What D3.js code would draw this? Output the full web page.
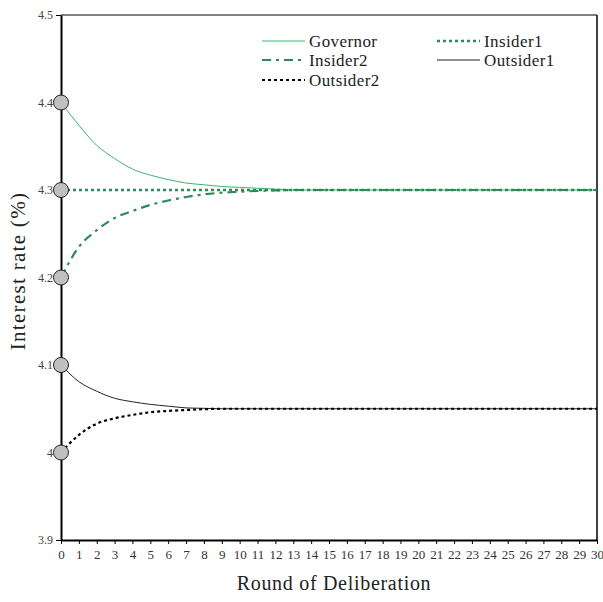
<!DOCTYPE html>
<html lang="en">
<head>
<meta charset="utf-8">
<title>Interest rate deliberation</title>
<script src="https://cdn.jsdelivr.net/npm/d3@7"></script>
<style>
  body { margin: 0; background: #fff; }
</style>
</head>
<body>
<svg id="chart" width="603" height="602"></svg>
<script>
// rounds of deliberation 0..30
var rounds = d3.range(0, 31);

var governor  = [4.4, 4.374, 4.351, 4.336, 4.324, 4.317, 4.312, 4.308, 4.306, 4.304, 4.303,
                 4.302, 4.301, 4.3, 4.3, 4.3, 4.3, 4.3, 4.3, 4.3, 4.3,
                 4.3, 4.3, 4.3, 4.3, 4.3, 4.3, 4.3, 4.3, 4.3, 4.3];
var insider1  = [4.3, 4.3, 4.3, 4.3, 4.3, 4.3, 4.3, 4.3, 4.3, 4.3, 4.3,
                 4.3, 4.3, 4.3, 4.3, 4.3, 4.3, 4.3, 4.3, 4.3, 4.3,
                 4.3, 4.3, 4.3, 4.3, 4.3, 4.3, 4.3, 4.3, 4.3, 4.3];
var insider2  = [4.2, 4.235, 4.254, 4.268, 4.276, 4.283, 4.288, 4.292, 4.295, 4.297, 4.298,
                 4.299, 4.2995, 4.3, 4.3, 4.3, 4.3, 4.3, 4.3, 4.3, 4.3,
                 4.3, 4.3, 4.3, 4.3, 4.3, 4.3, 4.3, 4.3, 4.3, 4.3];
var outsider1 = [4.1, 4.081, 4.07, 4.062, 4.058, 4.055, 4.053, 4.051, 4.0505, 4.05, 4.05,
                 4.05, 4.05, 4.05, 4.05, 4.05, 4.05, 4.05, 4.05, 4.05, 4.05,
                 4.05, 4.05, 4.05, 4.05, 4.05, 4.05, 4.05, 4.05, 4.05, 4.05];
var outsider2 = [4.0, 4.02, 4.033, 4.039, 4.043, 4.046, 4.0475, 4.0486, 4.0495, 4.05, 4.05,
                 4.05, 4.05, 4.05, 4.05, 4.05, 4.05, 4.05, 4.05, 4.05, 4.05,
                 4.05, 4.05, 4.05, 4.05, 4.05, 4.05, 4.05, 4.05, 4.05, 4.05];

var yTicks = [3.9, 4, 4.1, 4.2, 4.3, 4.4, 4.5];
var startValues = [4.4, 4.3, 4.2, 4.1, 4.0];

var series = [
  {name: "Governor",  values: governor,  color: "#3cb371", width: 1,   dash: null},
  {name: "Insider1",  values: insider1,  color: "#2e8b57", width: 2.5, dash: "3,3"},
  {name: "Insider2",  values: insider2,  color: "#2e8b57", width: 2.2, dash: "9,5,3,5"},
  {name: "Outsider1", values: outsider1, color: "#222",    width: 1,   dash: null},
  {name: "Outsider2", values: outsider2, color: "#000",    width: 2.2, dash: "3,3"}
];

var serif = "'Liberation Serif', 'Times New Roman', Tinos, 'DejaVu Serif', serif";

var svg = d3.select("#chart");
var plotL = 61, plotR = 597, plotT = 15, plotB = 540;

var x = d3.scaleLinear().domain([0, 30]).range([plotL, plotR]);
var y = d3.scaleLinear().domain([3.9, 4.5]).range([plotB, plotT]);

// frame: gray top, black right
svg.append("line")
  .attr("x1", plotL).attr("x2", plotR).attr("y1", plotT).attr("y2", plotT)
  .attr("stroke", "#808080").attr("stroke-width", 2);
svg.append("line")
  .attr("x1", plotR).attr("x2", plotR).attr("y1", plotT).attr("y2", plotB)
  .attr("stroke", "#000").attr("stroke-width", 1.5);

// series lines
var line = d3.line()
  .x((d, i) => x(rounds[i]))
  .y(d => y(d))
  .curve(d3.curveMonotoneX);

svg.selectAll(".series")
  .data(series)
  .enter().append("path")
    .attr("class", "series")
    .attr("d", d => line(d.values))
    .attr("fill", "none")
    .attr("stroke", d => d.color)
    .attr("stroke-width", d => d.width)
    .attr("stroke-dasharray", d => d.dash);

// x axis
var xAxis = svg.append("g")
  .attr("transform", `translate(0,${plotB})`)
  .call(d3.axisBottom(x).tickValues(rounds).tickSize(4).tickSizeOuter(0).tickFormat(d3.format("d")));
xAxis.attr("font-family", serif);
xAxis.select(".domain").attr("stroke", "#000").attr("stroke-width", 2);
xAxis.selectAll(".tick line").attr("stroke", "#000");
xAxis.selectAll(".tick text")
  .attr("y", 10)
  .attr("font-size", 13)
  .attr("fill", "#333");

// y axis
var yAxis = svg.append("g")
  .attr("transform", `translate(${plotL},0)`)
  .call(d3.axisLeft(y).tickValues(yTicks).tickSize(5).tickSizeOuter(0).tickFormat(d3.format("")));
yAxis.attr("font-family", serif);
yAxis.select(".domain").attr("stroke", "#000").attr("stroke-width", 2);
yAxis.selectAll(".tick line").attr("stroke", "#000");
yAxis.selectAll(".tick text")
  .attr("x", -8)
  .attr("font-size", 12)
  .attr("fill", "#444");

// starting positions
svg.selectAll(".start")
  .data(startValues)
  .enter().append("circle")
    .attr("class", "start")
    .attr("cx", x(0))
    .attr("cy", d => y(d))
    .attr("r", 7.5)
    .attr("fill", "#c0c0c0")
    .attr("stroke", "#222")
    .attr("stroke-width", 1);

// axis titles
svg.append("text")
  .attr("x", 334).attr("y", 590)
  .attr("text-anchor", "middle")
  .attr("font-family", serif)
  .attr("font-size", 20)
  .attr("letter-spacing", 0.7)
  .attr("fill", "#222")
  .text("Round of Deliberation");

svg.append("text")
  .attr("transform", "translate(25,271) rotate(-90)")
  .attr("text-anchor", "middle")
  .attr("font-family", serif)
  .attr("font-size", 21)
  .attr("letter-spacing", 1.3)
  .attr("fill", "#222")
  .text("Interest rate (%)");

// legend
var legendPos = [[262, 41], [437, 41], [262, 60], [437, 60], [262, 80]];
var legend = svg.selectAll(".legend")
  .data(series)
  .enter().append("g")
    .attr("class", "legend")
    .attr("transform", (d, i) => `translate(${legendPos[i][0]},${legendPos[i][1]})`);

legend.append("line")
  .attr("x1", 0).attr("x2", 43).attr("y1", 0).attr("y2", 0)
  .attr("stroke", d => d.color)
  .attr("stroke-width", d => d.width)
  .attr("stroke-dasharray", d => d.dash);

legend.append("text")
  .attr("x", 47).attr("y", 0)
  .attr("dy", "0.35em")
  .attr("font-family", serif)
  .attr("font-size", 17)
  .attr("letter-spacing", 0.4)
  .attr("fill", "#222")
  .text(d => d.name);
</script>
</body>
</html>
